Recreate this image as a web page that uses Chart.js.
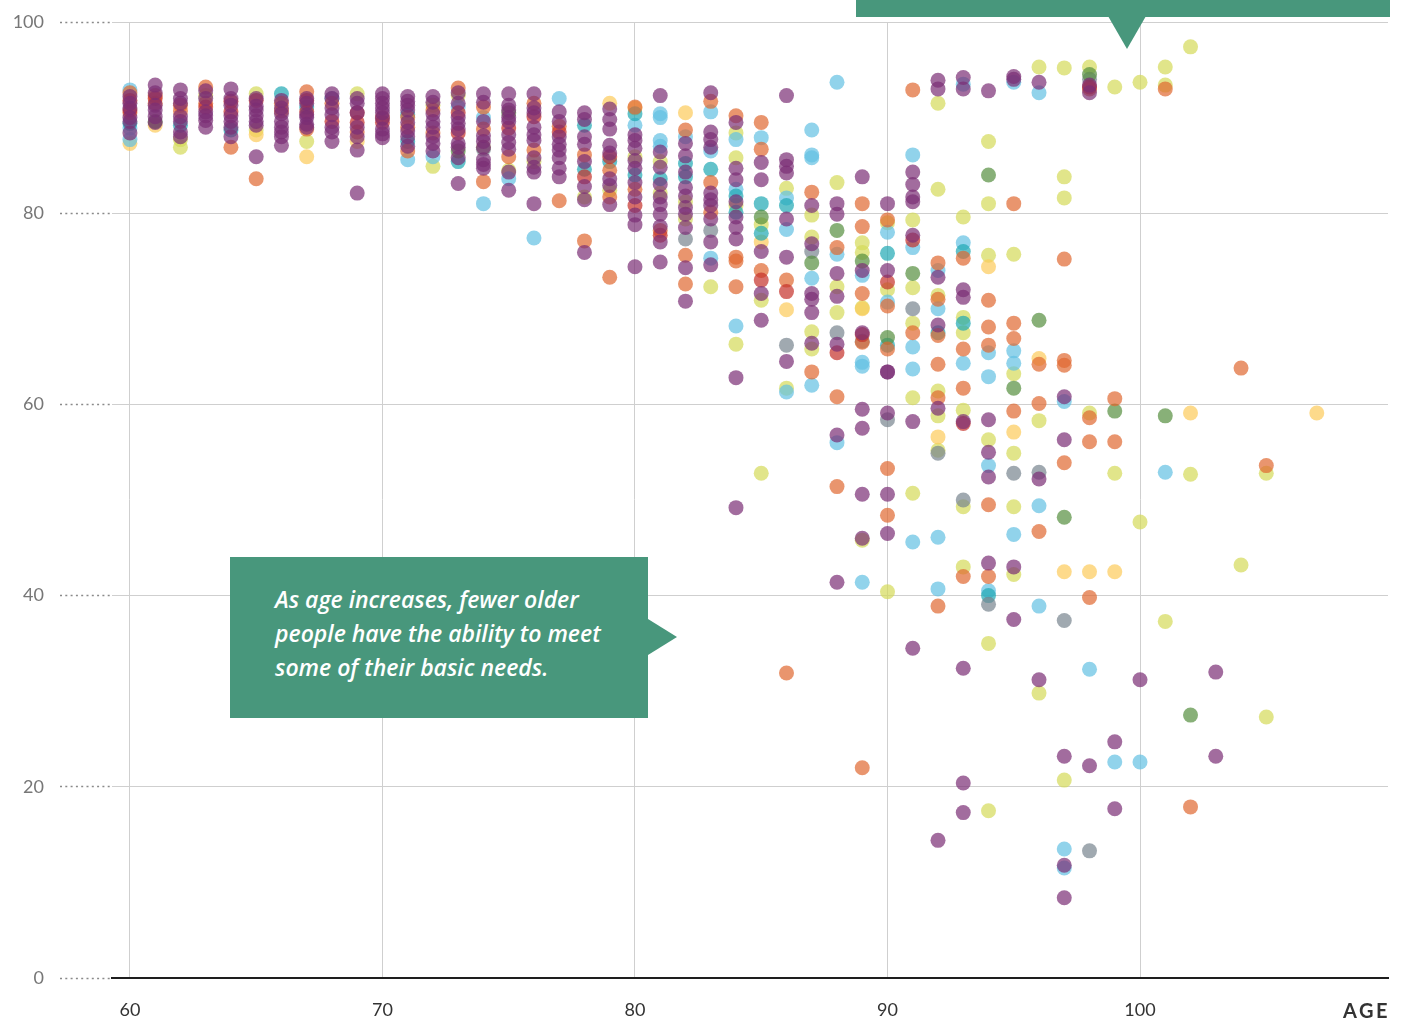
<!DOCTYPE html>
<html>
<head>
<meta charset="utf-8">
<script src="https://cdn.jsdelivr.net/npm/chart.js@4.4.1/dist/chart.umd.min.js"></script>
<style>
  html, body { margin: 0; padding: 0; background: #fff; }
  #wrap { position: relative; width: 1407px; height: 1019px; }
  .callout { position: absolute; background: #48977c; }
  .callout-text {
    font-family: 'Open Sans', sans-serif; font-style: italic; font-weight: 600;
    font-size: 23px; line-height: 34px; color: #fff;
  }
  #noteTop  { left: 856px; top: 0; width: 534px; height: 17px; }
  #noteTop::after {
    content: ''; position: absolute; left: 252px; top: 16px;
    border-left: 19px solid transparent; border-right: 19px solid transparent;
    border-top: 33px solid #48977c;
  }
  #noteMain { left: 230px; top: 557px; width: 418px; height: 161px; box-sizing: border-box; padding: 25px 0 0 45px; }
  #noteMain::after {
    content: ''; position: absolute; left: 418px; top: 62px;
    border-top: 18px solid transparent; border-bottom: 18px solid transparent;
    border-left: 29px solid #48977c;
  }
  #ageLabel {
    position: absolute; right: 17px; top: 998px;
    font-family: Lato, sans-serif; font-weight: 700; font-size: 20px; letter-spacing: 2.5px; color: #333;
  }
</style>
</head>
<body>
<div id="wrap">
  <canvas id="chart" width="1407" height="1019"></canvas>
  <div id="noteTop" class="callout"></div>
  <div id="noteMain" class="callout callout-text">As age increases, fewer older<br>people have the ability to meet<br>some of their basic needs.</div>
  <div id="ageLabel">AGE</div>
</div>
<script>
// ---- data: [age, value] ----
const xTicks = [60, 70, 80, 90, 100];
const yTicks = [0, 20, 40, 60, 80, 100];

const purple = [
  [60,92.2],[60,91.5],[60,91],[60,90],[60,89.6],[60,88.4],
  [61,93.4],[61,92.6],[61,91.3],[61,90.8],[61,90.1],[61,89.5],
  [62,92.9],[62,92],[62,91.5],[62,90.1],[62,89.6],[62,88.5],[62,88],
  [63,92.8],[63,92],[63,90.6],[63,90.2],[63,89.7],[63,89],
  [64,93],[64,92],[64,91.3],[64,90.2],[64,89.6],[64,89],[64,88],
  [65,92],[65,91.2],[65,90.8],[65,90.2],[65,89.6],[65,89.2],[65,85.9],
  [66,91.8],[66,91],[66,90.4],[66,89.6],[66,89],[66,88.5],[66,88],[66,87.1],
  [67,92],[67,91.5],[67,90.3],[67,90],[67,89.3],[67,89],
  [68,92.5],[68,92],[68,91],[68,90.3],[68,89],[68,88.5],[68,87.5],
  [69,92],[69,91.5],[69,90.5],[69,89],[69,88],[69,86.6],[69,82.1],
  [70,92.5],[70,92],[70,91.5],[70,91],[70,90.5],[70,89.9],[70,88.8],[70,88.3],[70,87.9],
  [71,92.2],[71,91.7],[71,91.3],[71,90.8],[71,89.5],[71,88.6],[71,88],[71,87],
  [72,92.2],[72,91.6],[72,90.4],[72,89.6],[72,89],[72,88],[72,87.3],[72,86.5],
  [73,92.6],[73,91.5],[73,90],[73,89.4],[73,88.8],[73,87.3],[73,86.9],[73,85.8],[73,83.1],
  [74,92.5],[74,91.6],[74,89.6],[74,88.1],[74,87.5],[74,86.9],[74,85.6],[74,85.1],[74,84.7],
  [75,92.5],[75,91.3],[75,90.8],[75,90],[75,89.6],[75,88.2],[75,87.4],[75,86.7],[75,84.3],[75,82.4],
  [76,92.5],[76,91],[76,90.5],[76,89],[76,88.2],[76,87.6],[76,85.8],[76,84.8],[76,84.3],[76,81],
  [77,90.6],[77,89.6],[77,88],[77,87.2],[77,86.6],[77,85.8],[77,84.7],[77,83.8],
  [78,90.5],[78,89.8],[78,88],[78,87.2],[78,85.4],[78,82.8],[78,81.4],[78,75.9],
  [79,90.9],[79,89.8],[79,88.8],[79,87.1],[79,86.3],[79,83.6],[79,82.9],[79,80.9],
  [80,88.2],[80,87.6],[80,86.8],[80,85.5],[80,84.7],[80,83.2],[80,81.7],[80,79.8],[80,78.8],[80,74.4],
  [81,92.3],[81,86.4],[81,84.8],[81,83],[81,81.7],[81,80.9],[81,79.9],[81,78.6],[81,77],[81,74.9],
  [82,87.3],[82,86],[82,84.3],[82,82.7],[82,81.8],[82,80.6],[82,79.9],[82,78.5],[82,74.3],[82,70.8],
  [83,92.6],[83,88.5],[83,87.7],[83,86.9],[83,82.1],[83,81.4],[83,80.8],[83,79.4],[83,77],[83,74.6],
  [84,89.5],[84,84.7],[84,83.5],[84,81.2],[84,79.6],[84,78.5],[84,77.3],[84,62.8],[84,49.2],
  [85,85.3],[85,83.5],[85,76],[85,71.6],[85,68.8],
  [86,92.3],[86,85.6],[86,84.9],[86,84.2],[86,79.4],[86,75.4],[86,64.5],
  [87,80.8],[87,76.8],[87,71.6],[87,71],[87,69.6],[87,66.4],
  [88,81],[88,79.9],[88,73.7],[88,71.3],[88,66.3],[88,56.8],[88,41.4],
  [89,83.8],[89,74],[89,67.5],[89,59.5],[89,57.5],[89,50.6],[89,46],
  [90,81],[90,74],[90,63.4],[90,63.4],[90,59.1],[90,50.6],[90,46.5],
  [91,84.3],[91,83],[91,81.7],[91,81.2],[91,77.7],[91,58.2],[91,34.5],
  [92,93.9],[92,93],[92,73.3],[92,68.3],[92,59.6],[92,14.4],
  [93,94.2],[93,93],[93,72],[93,71.2],[93,58.2],[93,32.4],[93,20.4],[93,17.3],
  [94,92.8],[94,58.4],[94,55],[94,52.4],[94,43.4],
  [95,94.3],[95,94],[95,43],[95,37.5],[96,93.7],[96,52.2],[96,31.2],
  [97,60.8],[97,56.3],[97,23.2],[97,11.8],[97,8.4],
  [98,93.4],[98,92.6],[98,22.2],[99,24.7],[99,17.7],[100,31.2],[103,32],[103,23.2]
];
const red = [
  [60,91.8],[60,90.8],[61,92],[63,91.1],[64,91.7],[64,90.6],[65,91.8],[67,91.8],[67,90.6],
  [68,89.6],[69,90.5],[69,89.5],[70,89.5],[73,90.5],[73,88.4],[75,88.9],[76,90.1],[77,88.5],
  [78,83.8],[79,85.9],[80,80.8],[81,77.7],[85,73],[86,71.8],
  [88,65.4],[89,67.3],[90,72.8],[91,77.2],[93,58],[98,93.2]
];
const orange = [
  [60,92.6],[60,90.5],[61,92.3],[61,91.5],[62,91.3],[62,90.7],[63,93.2],[63,91.5],[64,86.9],
  [65,83.6],[66,91.5],[66,90.7],[67,92.7],[67,88.8],[68,91.5],[69,88.5],[70,90],[71,90],[71,89],[71,86.5],
  [72,90.8],[72,88.4],[73,93.1],[74,91.1],[74,88.8],[74,83.3],[75,85.9],[76,91.5],[76,86.6],
  [77,89.1],[77,81.3],[78,86.1],[78,77.1],
  [79,84.5],[79,81.7],[79,73.3],[80,91.1],[80,82.5],[81,78.2],
  [82,88.7],[82,75.6],[82,72.6],[83,91.7],[83,83.2],[83,80.1],
  [84,90.2],[84,75.4],[84,75],[84,72.3],[85,89.5],[85,86.7],[85,74],
  [86,73],[86,31.9],[87,82.2],[87,63.4],[88,76.4],[88,60.8],[88,51.4],
  [89,81],[89,78.6],[89,71.6],[89,66.5],[89,22],
  [90,79.3],[90,70.3],[90,65.8],[90,53.3],[90,48.4],[91,92.9],[91,67.5],
  [92,74.8],[92,71],[92,67.2],[92,64.2],[92,60.7],[92,38.9],
  [93,75.3],[93,65.8],[93,61.7],[93,42],[94,70.9],[94,68.1],[94,66.2],[94,49.5],[94,42],
  [95,81],[95,68.5],[95,66.9],[95,59.3],[96,64.2],[96,60.1],[96,46.7],
  [97,75.2],[97,64.6],[97,64.1],[97,53.9],[98,93],[98,58.6],[98,56.1],[98,39.8],
  [99,60.6],[99,56.1],[101,93],[102,17.9],[104,63.8],[105,53.6]
];
const green = [
  [61,89.6],[73,86.5],[75,90.5],[85,79.6],[87,74.8],[88,78.2],[89,75],[90,67],
  [91,73.7],[94,84],[95,61.7],[96,68.8],[97,48.2],[98,94.5],[99,59.3],[101,58.8],[102,27.5]
];
const gray = [
  [74,86.7],[82,77.3],[83,78.2],[86,66.2],[87,76],[88,67.5],[89,66.6],[90,58.4],
  [91,70],[92,54.9],[93,50],[94,39.1],[95,52.8],[96,52.9],[97,37.4],[98,94],[98,13.3]
];
const teal = [
  [60,89.4],[62,89.2],[64,88.7],[66,92.5],[67,91.1],[71,90.3],[71,87.5],[73,85.4],
  [78,89.2],[78,84.6],[79,85.4],[80,90.4],[80,84],[81,83.6],[82,85.2],[82,83.8],
  [83,84.6],[84,81.8],[84,80.1],[85,81],[85,77.9],[86,80.8],[90,75.8],[90,66.2],
  [92,67.5],[93,76],[93,68.5],[94,40]
];
const lightBlue = [
  [60,92.9],[60,88.9],[60,87.7],[68,92],[71,85.6],[72,85.9],[73,91.1],[74,90],[74,81],
  [75,83.6],[76,77.4],[77,92],[80,89.2],[81,90.4],[81,90],[81,87.6],[81,87],[82,88],
  [83,90.6],[83,86.5],[83,75.3],[84,87.7],[84,82.5],[84,68.2],[85,87.9],
  [86,81.6],[86,78.3],[86,61.3],[87,88.7],[87,86.1],[87,85.8],[87,73.2],[87,62],
  [88,93.7],[88,75.7],[88,56],[89,73.5],[89,64.4],[89,64],[89,41.4],[90,78],[90,70.7],
  [91,86.1],[91,76.4],[91,66],[91,63.7],[91,45.6],[92,74],[92,70],[92,46.1],[92,40.7],
  [93,93.5],[93,76.9],[93,64.3],[94,65.4],[94,62.9],[94,53.6],[94,40.5],
  [95,93.7],[95,65.6],[95,64.3],[95,46.4],[96,92.6],[96,49.4],[96,38.9],
  [97,60.3],[97,13.5],[97,11.5],[98,32.3],[99,22.6],[100,22.6],[101,52.9]
];
const yellow = [
  [60,87.3],[61,89.2],[65,88.2],[67,85.9],[69,87.5],[79,91.5],[80,91],[82,90.5],
  [85,77],[86,69.9],[89,70],[92,56.6],[94,74.4],[95,57.1],[96,64.8],
  [97,42.5],[98,42.5],[99,42.5],[102,59.1],[107,59.1]
];
const lime = [
  [62,87.7],[62,86.9],[63,92.3],[65,92.5],[65,88.7],[67,87.5],[69,92.5],[72,91.3],[72,84.9],
  [73,92.3],[74,86.9],[75,84.5],[76,85.4],[78,81.7],[79,82.4],[80,85.9],[81,85.4],[81,82.1],
  [82,81.2],[82,79.4],[83,72.3],[84,88.4],[84,85.8],[84,80.8],[84,66.3],
  [85,78.8],[85,70.9],[85,52.8],[86,82.6],[86,61.7],
  [87,79.8],[87,77.5],[87,67.6],[87,65.8],[88,83.2],[88,72.3],[88,69.6],
  [89,76.9],[89,75.9],[89,70.1],[89,45.8],[90,79],[90,72],[90,40.4],
  [91,79.3],[91,72.2],[91,68.5],[91,60.7],[91,50.7],
  [92,91.5],[92,82.5],[92,71.4],[92,61.4],[92,58.8],[92,55.2],
  [93,79.6],[93,69.1],[93,67.5],[93,59.4],[93,49.3],[93,43],
  [94,87.5],[94,81],[94,75.6],[94,56.3],[94,35],[94,17.5],
  [95,75.7],[95,63.2],[95,54.9],[95,49.3],[95,42.2],[96,95.3],[96,58.3],[96,29.8],
  [97,95.2],[97,83.8],[97,81.6],[97,20.7],[98,95.3],[98,59.1],[99,93.2],[99,52.8],
  [100,93.7],[100,47.7],[101,95.3],[101,93.4],[101,37.3],[102,97.4],[102,52.7],
  [104,43.2],[105,52.8],[105,27.3]
];

// first dataset ends up on top
const seriesList = [
  { name: 'purple',    pts: purple,    color: 'rgba(123,45,117,0.7)' },
  { name: 'red',       pts: red,       color: 'rgba(196,48,42,0.7)' },
  { name: 'orange',    pts: orange,    color: 'rgba(224,104,48,0.7)' },
  { name: 'green',     pts: green,     color: 'rgba(85,142,62,0.7)' },
  { name: 'gray',      pts: gray,      color: 'rgba(120,132,142,0.7)' },
  { name: 'teal',      pts: teal,      color: 'rgba(32,168,180,0.7)' },
  { name: 'lightBlue', pts: lightBlue, color: 'rgba(98,193,226,0.7)' },
  { name: 'yellow',    pts: yellow,    color: 'rgba(252,202,90,0.7)' },
  { name: 'lime',      pts: lime,      color: 'rgba(212,218,88,0.7)' },
];

const datasets = seriesList.map(s => ({
  label: s.name,
  data: s.pts.map(([x, y]) => ({ x, y })),
  backgroundColor: s.color,
  borderWidth: 0,
  pointRadius: 7.5,
  pointHoverRadius: 7.5,
}));

new Chart(document.getElementById('chart'), {
  type: 'scatter',
  data: { datasets },
  options: {
    responsive: false,
    animation: false,
    layout: { padding: { top: 22, right: 19, left: 0, bottom: 0 } },
    plugins: { legend: { display: false }, tooltip: { enabled: false } },
    scales: {
      x: {
        type: 'linear', min: 59.29, max: 109.82,
        afterBuildTicks: s => { s.ticks = xTicks.map(v => ({ value: v })); },
        afterFit: s => { s.height = 41; s.paddingLeft = 0; s.paddingRight = 0; },
        grid: { color: '#cfcfcf', lineWidth: 1, drawTicks: false },
        border: { display: true, color: '#1e1e1e', width: 2 },
        ticks: { color: '#333', padding: 21, font: { family: 'Lato', size: 18 } },
      },
      y: {
        min: 0, max: 100,
        afterBuildTicks: s => { s.ticks = yTicks.map(v => ({ value: v })); },
        afterFit: s => { s.width = 112; s.paddingTop = 0; s.paddingBottom = 0; },
        grid: {
          color: '#cfcfcf', lineWidth: 1,
          drawTicks: true, tickLength: 52,
          tickColor: '#8a8a8a', tickWidth: 1.5, tickBorderDash: [2, 3.3],
        },
        border: { display: false },
        ticks: { color: '#777', padding: 16, font: { family: 'Lato', size: 18 } },
      },
    },
  },
});
</script>
</body>
</html>
